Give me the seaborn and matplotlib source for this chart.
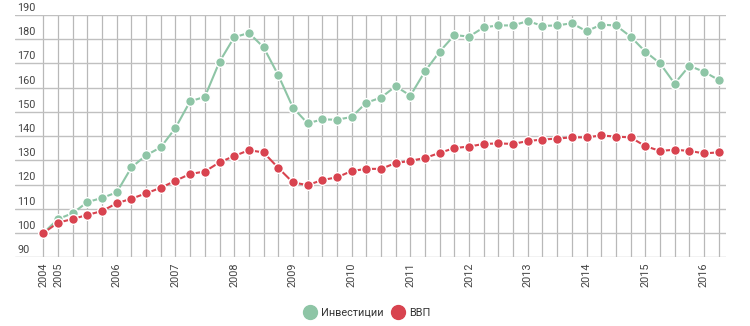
import matplotlib
matplotlib.use("Agg")
import matplotlib.pyplot as plt
import seaborn as sns
import pandas as pd
from matplotlib.lines import Line2D

# Data (index 100 = 2004)
period_labels = ["2004", "2005", "", "", "", "2006", "", "", "", "2007", "", "", "",
                 "2008", "", "", "", "2009", "", "", "", "2010", "", "", "",
                 "2011", "", "", "", "2012", "", "", "", "2013", "", "", "",
                 "2014", "", "", "", "2015", "", "", "", "2016", ""]
investments = [100.0, 105.8, 108.2, 112.8, 114.5, 116.8, 127.1, 132.1, 135.4, 143.4,
               154.4, 156.2, 170.7, 180.8, 182.6, 176.7, 165.2, 151.8, 145.3, 146.9,
               146.8, 147.9, 153.8, 155.9, 160.6, 156.7, 166.8, 174.9, 181.7, 181.1,
               184.9, 185.7, 185.7, 187.5, 185.5, 185.7, 186.6, 183.3, 186.0, 185.7,
               181.1, 174.9, 170.1, 161.7, 169.0, 166.6, 163.2]
gdp = [100.0, 104.3, 105.8, 107.5, 109.1, 112.3, 114.2, 116.4, 118.7, 121.6,
       124.4, 125.4, 129.2, 131.8, 134.2, 133.3, 126.9, 120.9, 119.8, 121.9,
       123.0, 125.6, 126.5, 126.5, 128.9, 129.8, 131.0, 133.1, 135.1, 135.7,
       136.8, 137.0, 136.8, 138.0, 138.6, 139.0, 139.5, 139.5, 140.3, 139.8,
       139.5, 135.9, 133.9, 134.4, 133.9, 132.9, 133.3]
series_names = ["Инвестиции", "ВВП"]
y_ticks = [90, 100, 110, 120, 130, 140, 150, 160, 170, 180, 190]

colors = {"Инвестиции": "#8ec5a6", "ВВП": "#d8434f"}

n = len(period_labels)
df = pd.DataFrame({
    "idx": list(range(n)) * 2,
    "value": investments + gdp,
    "series": [series_names[0]] * n + [series_names[1]] * n,
})

sns.set_theme(style="white")
plt.rcParams["font.family"] = ["Roboto", "DejaVu Sans"]

fig = plt.figure(figsize=(7.5, 3.26), dpi=100)
ax = fig.add_axes([0.02, 0.2107, 0.948, 0.7433])

sns.lineplot(data=df, x="idx", y="value", hue="series", palette=colors,
             marker="o", markersize=7, markeredgecolor="white", markeredgewidth=1.0,
             linewidth=1.5, ax=ax, legend=False, zorder=3)

ax.set_xlim(-1.93, 46.5)
ax.set_ylim(90, 190)
ax.set_xticks(range(n))
ax.set_xticklabels(period_labels, rotation=90, fontsize=7.8, color="#444444")
ax.tick_params(axis="x", length=0, pad=4)
ax.set_yticks(y_ticks)
ax.set_yticklabels([])
ax.tick_params(axis="y", length=0)
ax.grid(True, axis="y", color="#c0c0c0", linewidth=1.0)
ax.grid(True, axis="x", color="#b8b8b8", linewidth=0.9)
for s in ax.spines.values():
    s.set_visible(False)
ax.set_xlabel("")
ax.set_ylabel("")

ytrans = ax.get_yaxis_transform()
for v in y_ticks:
    ax.text(0.003, v + 0.9, str(v), transform=ytrans, ha="left", va="bottom",
            fontsize=7.8, color="#444444")

handles = [Line2D([0], [0], marker="o", color="none", markerfacecolor=colors[s],
                  markeredgecolor=colors[s], markersize=10, label=s) for s in series_names]
fig.legend(handles=handles, loc="center", bbox_to_anchor=(0.49, 0.04), ncol=2,
           frameon=False, fontsize=7.8, handletextpad=0.5, columnspacing=0.9,
           handlelength=1.0, labelcolor="#333333")

fig.savefig("out.png", dpi=100)
